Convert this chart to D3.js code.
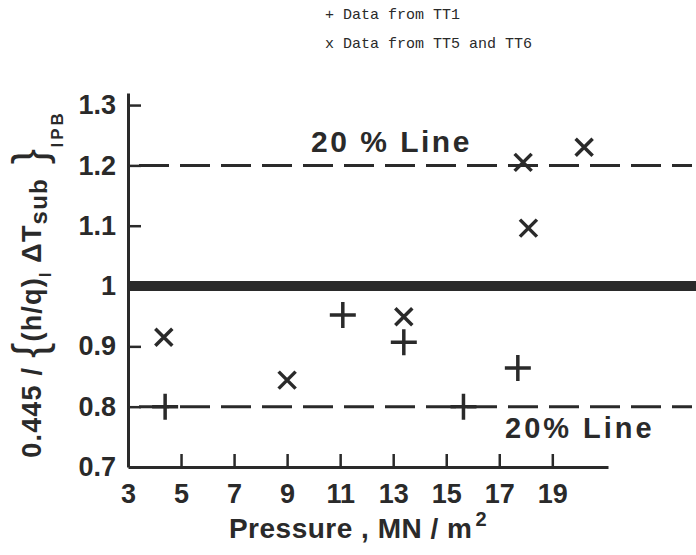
<!DOCTYPE html>
<html>
<head>
<meta charset="utf-8">
<script src="https://cdn.jsdelivr.net/npm/d3@7"></script>
<style>
  body { margin: 0; background: #fff; }
  svg { display: block; }
</style>
</head>
<body>
<div class="chart"></div>
<script>
// data
const xTicks = [3, 5, 7, 9, 11, 13, 15, 17, 19];
const yTicks = [0.7, 0.8, 0.9, 1.0, 1.1, 1.2, 1.3];
const yTickLabels = ["0.7", "0.8", "0.9", "1", "1.1", "1.2", "1.3"];
// + Data from TT1
const tt1Pressure = [4.4, 11.1, 13.4, 15.65, 17.7];
const tt1Ratio = [0.80, 0.952, 0.907, 0.80, 0.864];
// x Data from TT5 and TT6
const tt56Pressure = [4.35, 9.0, 13.4, 17.9, 18.1, 20.2];
const tt56Ratio = [0.915, 0.844, 0.949, 1.205, 1.096, 1.23];
const dashedLines = [1.2, 0.8];
const solidLine = 1.0;

const ink = "#2a2a2a";
const width = 696, height = 555;

const svg = d3.select(".chart").append("svg")
    .attr("width", width)
    .attr("height", height);

const x = d3.scaleLinear().domain([3, 21.1]).range([128, 608]);
const y = d3.scaleLinear().domain([0.7, 1.32]).range([467, 93]);

// legend
const legend = svg.append("g")
    .attr("font-family", "Liberation Mono, DejaVu Sans Mono, monospace")
    .attr("font-size", 15)
    .attr("fill", ink);
legend.append("text").attr("x", 325).attr("y", 19).text("+ Data from TT1");
legend.append("text").attr("x", 325).attr("y", 48).text("x Data from TT5 and TT6");

// axes
const xAxis = d3.axisBottom(x)
    .tickValues(xTicks)
    .tickSizeInner(-13)
    .tickSizeOuter(0)
    .tickPadding(17)
    .tickFormat(d3.format("d"));

const gx = svg.append("g")
    .attr("transform", "translate(0," + y(0.7) + ")")
    .call(xAxis);

const yAxis = d3.axisLeft(y)
    .tickValues(yTicks)
    .tickSizeInner(-13)
    .tickSizeOuter(0)
    .tickPadding(12)
    .tickFormat((d, i) => yTickLabels[i]);

const gy = svg.append("g")
    .attr("transform", "translate(" + x(3) + ",0)")
    .call(yAxis);

[gx, gy].forEach(g => {
    g.select(".domain").attr("stroke", ink).attr("stroke-width", 3);
    g.selectAll(".tick line").attr("stroke", ink).attr("stroke-width", 2.5);
    g.selectAll(".tick text")
        .attr("fill", ink)
        .attr("font-family", "Liberation Sans, Arial, sans-serif")
        .attr("font-weight", "bold")
        .attr("font-size", 27);
});
// no tick mark at the corner
gx.selectAll(".tick").filter(d => d === 3).select("line").remove();
gy.selectAll(".tick").filter(d => d === 0.7).select("line").remove();
gy.selectAll(".tick").filter(d => d === 1.0).select("line").remove();

// reference lines
svg.append("line")
    .attr("x1", x(3)).attr("x2", width)
    .attr("y1", y(solidLine)).attr("y2", y(solidLine))
    .attr("stroke", ink)
    .attr("stroke-width", 10);

svg.selectAll(".dash")
    .data(dashedLines)
    .enter()
    .append("line")
    .attr("class", "dash")
    .attr("x1", 139).attr("x2", 692)
    .attr("y1", d => y(d)).attr("y2", d => y(d))
    .attr("stroke", ink)
    .attr("stroke-width", 3)
    .attr("stroke-dasharray", "30,11");

const lineLabel = svg.append("g")
    .attr("fill", ink)
    .attr("font-family", "Liberation Sans, Arial, sans-serif")
    .attr("font-weight", "bold");
lineLabel.append("text")
    .attr("x", 311).attr("y", 152)
    .attr("font-size", 30)
    .attr("letter-spacing", 2.5)
    .text("20 % Line");
lineLabel.append("text")
    .attr("x", 505).attr("y", 438)
    .attr("font-size", 29)
    .attr("letter-spacing", 3)
    .text("20% Line");

// markers
const plusPts = tt1Pressure.map((p, i) => [p, tt1Ratio[i]]);
const crossPts = tt56Pressure.map((p, i) => [p, tt56Ratio[i]]);

svg.append("g").selectAll("path")
    .data(plusPts)
    .enter()
    .append("path")
    .attr("d", d => {
        const cx = x(d[0]), cy = y(d[1]), r = 13;
        return "M" + (cx - r) + "," + cy + "H" + (cx + r) + "M" + cx + "," + (cy - r) + "V" + (cy + r);
    })
    .attr("stroke", ink)
    .attr("stroke-width", 3.5)
    .attr("fill", "none");

svg.append("g").selectAll("path")
    .data(crossPts)
    .enter()
    .append("path")
    .attr("d", d => {
        const cx = x(d[0]), cy = y(d[1]), r = 8.5;
        return "M" + (cx - r) + "," + (cy - r) + "L" + (cx + r) + "," + (cy + r) +
            "M" + (cx - r) + "," + (cy + r) + "L" + (cx + r) + "," + (cy - r);
    })
    .attr("stroke", ink)
    .attr("stroke-width", 3.5)
    .attr("fill", "none");

// axis titles
svg.append("text")
    .attr("x", 358).attr("y", 538)
    .attr("text-anchor", "middle")
    .attr("fill", ink)
    .attr("font-family", "Liberation Sans, Arial, sans-serif")
    .attr("font-weight", "bold")
    .attr("font-size", 28)
    .attr("letter-spacing", 0.5)
    .call(t => {
        t.append("tspan").text("Pressure , MN / m");
        t.append("tspan").attr("dx", 3).attr("dy", -12).attr("font-size", 20).text("2");
    });

const yTitle = svg.append("text")
    .attr("transform", "translate(41,284) rotate(-90)")
    .attr("text-anchor", "middle")
    .attr("fill", ink)
    .attr("font-family", "Liberation Sans, Arial, sans-serif")
    .attr("font-weight", "bold")
    .attr("font-size", 27)
    .attr("letter-spacing", 1.2);
yTitle.append("tspan").text("0.445 / ");
yTitle.append("tspan").attr("font-size", 46).attr("font-weight", "normal").attr("dy", 4).text("{");
yTitle.append("tspan").attr("dy", -4).text("(h/q)");
yTitle.append("tspan").attr("font-size", 16).attr("dy", 10).text("I");
yTitle.append("tspan").attr("dy", -10).text(" \u0394T");
yTitle.append("tspan").attr("font-size", 24).attr("dy", 6).text("sub");
yTitle.append("tspan").attr("font-size", 46).attr("font-weight", "normal").attr("dy", -2).text(" }");
yTitle.append("tspan").attr("font-size", 17).attr("letter-spacing", 3).attr("dy", 18).text("IPB");
</script>
</body>
</html>
